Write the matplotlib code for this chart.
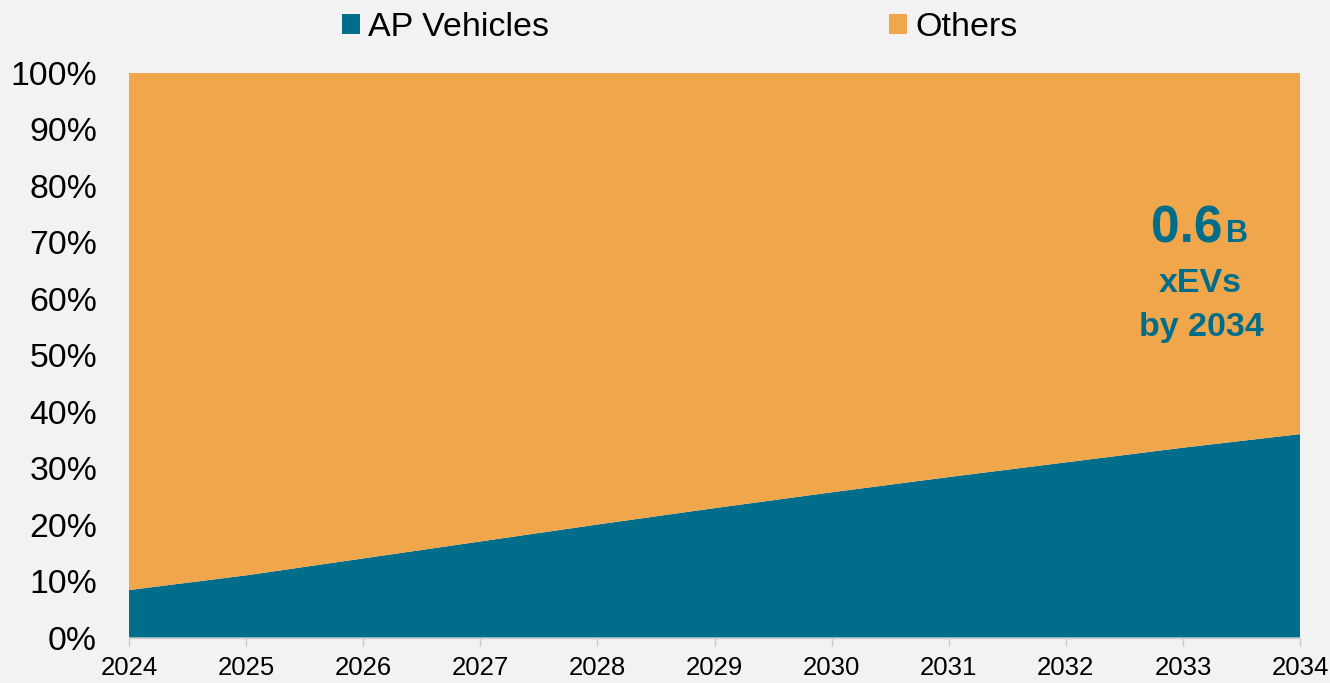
import matplotlib
matplotlib.use("Agg")
import matplotlib.pyplot as plt
from matplotlib.patches import Patch
import numpy as np

plt.rcParams['font.family'] = ['Liberation Sans', 'DejaVu Sans']

# share of xEV stock, %
years = [2024, 2025, 2026, 2027, 2028, 2029, 2030, 2031, 2032, 2033, 2034]
ap_vehicles = [8.4, 11.0, 14.0, 17.0, 20.0, 22.9, 25.7, 28.4, 31.0, 33.6, 36.0]
others = [100 - v for v in ap_vehicles]
series_names = ['AP Vehicles', 'Others']

TEAL = '#006E8A'
ORANGE = '#F0A64B'
BG = '#F2F2F2'

fig = plt.figure(figsize=(13.3, 6.83), dpi=100, facecolor=BG)
ax = fig.add_axes([0.097, 0.0666, 0.8805, 0.8272])
ax.set_facecolor(BG)

ax.stackplot(years, ap_vehicles, others, colors=[TEAL, ORANGE], linewidth=0)

ax.set_xlim(years[0], years[-1])
ax.set_ylim(0, 100)
ax.set_xticks(years)
ax.set_xticklabels([str(y) for y in years], fontsize=18.5)
ax.set_yticks(range(0, 101, 10))
ax.set_yticklabels([f'{v}%' for v in range(0, 101, 10)], fontsize=24.3)
ax.tick_params(axis='y', length=0, pad=23)
ax.tick_params(axis='x', length=6, width=1, color='#C8C8C8', pad=7, direction='out')

for s in ['top', 'right', 'left']:
    ax.spines[s].set_visible(False)
ax.spines['bottom'].set_color('#D0D0D0')
ax.spines['bottom'].set_linewidth(1)

# callout
ax.text(0.934, 0.700, '0.6', transform=ax.transAxes, ha='right', va='baseline',
        fontsize=37, fontweight='bold', color=TEAL)
ax.text(0.937, 0.700, 'B', transform=ax.transAxes, ha='left', va='baseline',
        fontsize=22, fontweight='bold', color=TEAL)
ax.text(0.9146, 0.6115, 'xEVs', transform=ax.transAxes, ha='center', va='baseline',
        fontsize=24.5, fontweight='bold', color=TEAL)
ax.text(0.9155, 0.5345, 'by 2034', transform=ax.transAxes, ha='center', va='baseline',
        fontsize=24.5, fontweight='bold', color=TEAL)

handles = [Patch(facecolor=TEAL, edgecolor='none'), Patch(facecolor=ORANGE, edgecolor='none')]
fig.legend(handles, series_names, loc='upper center', bbox_to_anchor=(0.511, 1.027),
           ncol=2, frameon=False, fontsize=24.5, handlelength=0.53, handleheight=0.53,
           handletextpad=0.24, columnspacing=10.0)

fig.savefig('out.png', dpi=100, facecolor=BG)
